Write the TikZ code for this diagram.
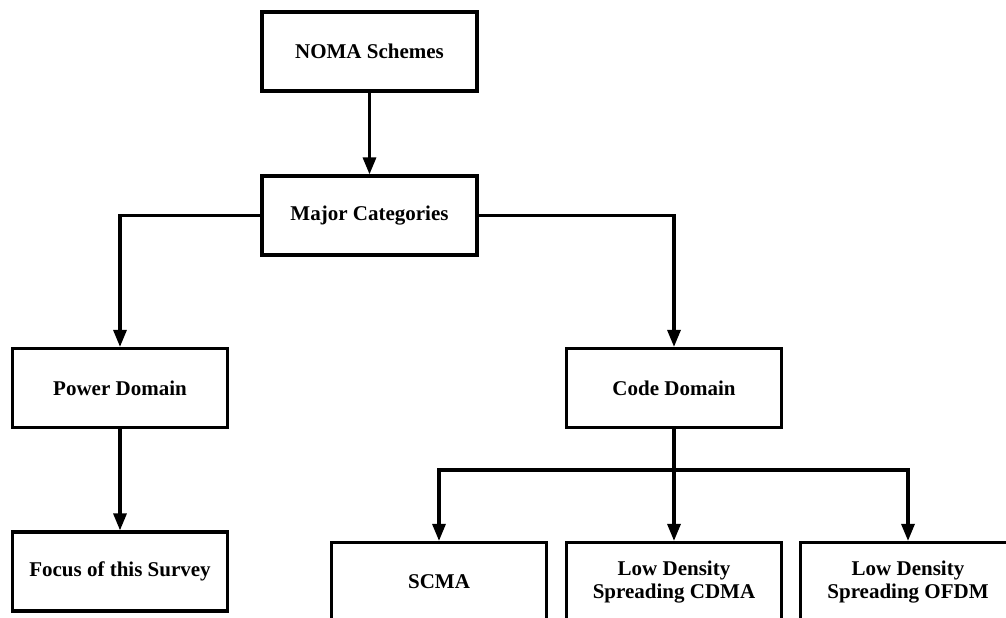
\documentclass[tikz,border=0pt]{standalone}
\usepackage{fontspec}
\setmainfont{Liberation Serif}
\usetikzlibrary{arrows.meta}
\begin{document}
\begin{tikzpicture}[x=1pt,y=-1pt,
  box/.style={draw=black,line width=3.2pt,minimum width=215pt,minimum height=79pt,
    inner sep=0pt,align=center,font=\fontsize{21pt}{23pt}\selectfont\bfseries},
  conn/.style={line width=3.2pt,-{Triangle[length=17pt,width=13pt]}},
  bus/.style={line width=3.2pt}]
\useasboundingbox (0,0) rectangle (1006,618);
\clip (0,0) rectangle (1006,618);
\node[box] (noma) at (369.5,51.5) {NOMA Schemes};
\node[box] (major) at (369.5,215.5) {Major Categories};
\node[box] (power) at (120,388) {Power Domain};
\node[box] (code) at (674,388) {Code Domain};
\node[box] (focus) at (120,571.5) {Focus of this Survey};
\node[box] (scma) at (439,582) {SCMA};
\node[box] (cdma) at (674,582) {Low Density\\Spreading CDMA};
\node[box] (ofdm) at (908,582) {Low Density\\Spreading OFDM};
\coordinate (j) at (674,470);
\draw[conn] (noma) -- (major);
\draw[conn] (major.west) -| (power.north);
\draw[conn] (major.east) -| (code.north);
\draw[conn] (power) -- (focus);
\draw[bus] (code.south) -- (j);
\draw[conn] (j) -| (scma.north);
\draw[conn] (j) -- (cdma.north);
\draw[conn] (j) -| (ofdm.north);
\fill (j) circle (3pt);
\end{tikzpicture}
\end{document}
